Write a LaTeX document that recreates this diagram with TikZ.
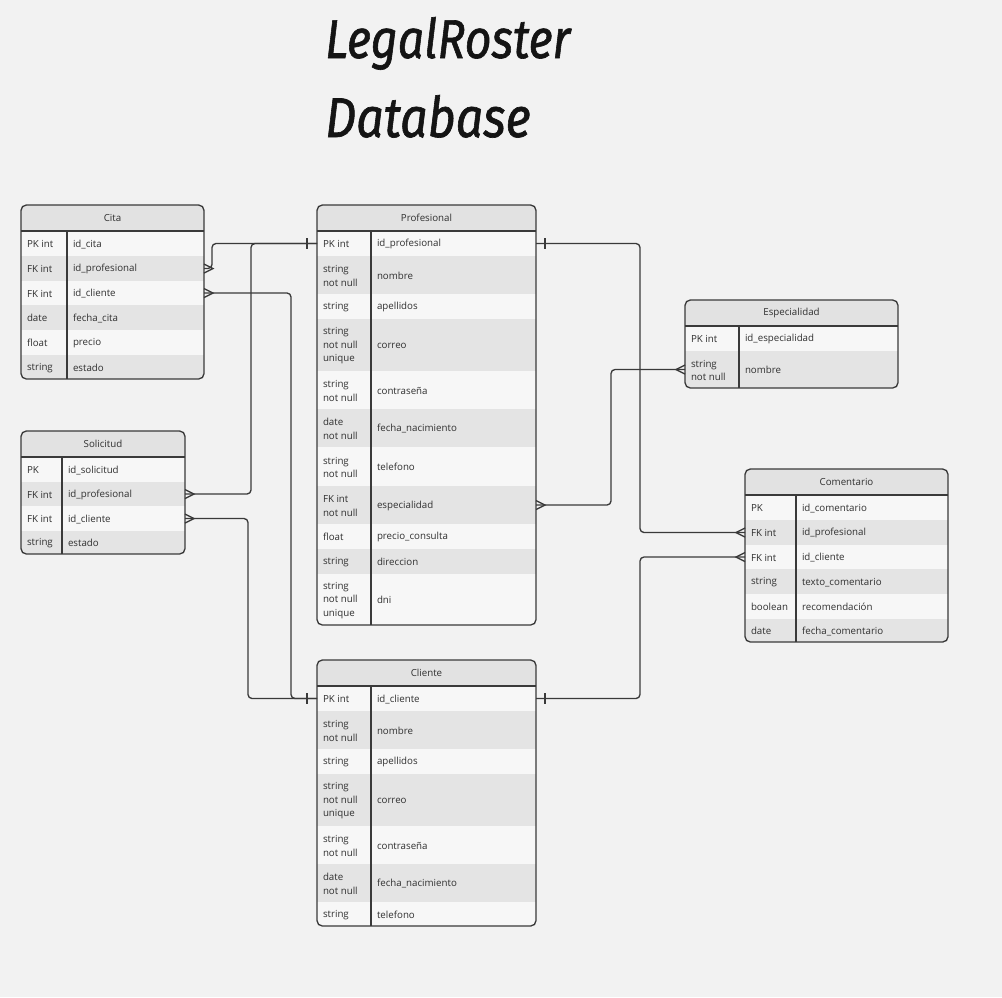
\documentclass[tikz,border=0pt]{standalone}
\usepackage{fontspec}
\setmainfont{Open Sans}
\newfontfamily\titlefont{Fira Sans}[ItalicFeatures={FakeBold=1.2}]
\usetikzlibrary{calc}
\definecolor{bg}{HTML}{F2F2F2}
\definecolor{rowW}{HTML}{F7F7F7}
\definecolor{rowG}{HTML}{E4E4E4}
\definecolor{hdr}{HTML}{E2E2E2}
\definecolor{ln}{HTML}{3A3A3A}
\definecolor{txt}{HTML}{303030}
\tikzset{
  cell/.style={font=\fontsize{7.3}{10}\selectfont, text=txt, inner sep=0pt, outer sep=0pt, align=left},
  conn/.style={draw=ln, line width=1pt, rounded corners=3pt},
  tick/.style={draw=ln, line width=1pt},
  frame/.style={draw=ln, line width=1pt, rounded corners=4pt},
  sep/.style={draw=ln, line width=1pt},
}
% name, x1, xd, x2, y1, y2, fill, left, right
\newcommand{\erow}[9]{%
  \node[fill=#7, inner sep=0pt, outer sep=0pt, minimum width={(#4-#2)*0.75pt}, minimum height={(#6-#5)*0.75pt}, anchor=north west] (#1) at (#2,#5) {};
  \node[cell, anchor=west] (#1-k) at ({#2+6},{(#5+#6)/2+0.8}) {#8};
  \node[cell, anchor=west] (#1-v) at ({#3+6},{(#5+#6)/2+0.8}) {#9};
}
% name, x1, x2, y1, yh, title
\newcommand{\ehead}[6]{%
  \node[cell, fill=hdr, minimum width={(#3-#2)*0.75pt}, minimum height={(#5-#4)*0.75pt}, anchor=north west, align=center] (#1) at (#2,#4) {#6};
}
% x1, xd, x2, y1, yh, y2
\newcommand{\eframe}[6]{%
  \draw[sep] (#1,#5) -- (#3,#5);
  \draw[sep] (#2,#5) -- (#2,#6);
  \draw[frame] (#1,#4) rectangle (#3,#6);
}
\newcommand{\crowR}[1]{\draw[tick] ($(#1)+(0,-4.5)$) -- ($(#1)+(9,0)$) -- ($(#1)+(0,4.5)$);}
\newcommand{\crowL}[1]{\draw[tick] ($(#1)+(0,-4.5)$) -- ($(#1)+(-9,0)$) -- ($(#1)+(0,4.5)$);}
\newcommand{\barR}[1]{\draw[tick] ($(#1)+(9,-5.5)$) -- ($(#1)+(9,5.5)$);}
\newcommand{\barL}[1]{\draw[tick] ($(#1)+(-10,-5.5)$) -- ($(#1)+(-10,5.5)$);}
\begin{document}
\begin{tikzpicture}[x=0.75pt, y=-0.75pt]
\useasboundingbox (0,0) rectangle (1002,997);
\fill[bg] (0,0) rectangle (1002,997);

% Title
\node[anchor=base west, inner sep=0pt, text=black!92] (title1) at (325,58) {\resizebox{183.75pt}{30.75pt}{\titlefont\itshape LegalRoster}};
\node[anchor=base west, inner sep=0pt, text=black!92] (title2) at (325,137) {\resizebox{154pt}{31.5pt}{\titlefont\itshape Database}};

% Cita
\begin{scope}
\clip[rounded corners=4pt] (21,205) rectangle (204,379);
\ehead{cita}{21}{204}{205}{231}{Cita}
\erow{cita-1}{21}{67}{204}{231}{256}{rowW}{PK int}{id\_cita}
\erow{cita-2}{21}{67}{204}{256}{281}{rowG}{FK int}{id\_profesional}
\erow{cita-3}{21}{67}{204}{281}{305}{rowW}{FK int}{id\_cliente}
\erow{cita-4}{21}{67}{204}{305}{330}{rowG}{date}{fecha\_cita}
\erow{cita-5}{21}{67}{204}{330}{355}{rowW}{float}{precio}
\erow{cita-6}{21}{67}{204}{355}{379}{rowG}{string}{estado}
\end{scope}
\eframe{21}{67}{204}{205}{231}{379}

% Profesional
\begin{scope}
\clip[rounded corners=4pt] (317,205) rectangle (536,625);
\ehead{prof}{317}{536}{205}{231}{Profesional}
\erow{prof-1}{317}{371}{536}{231}{256}{rowW}{PK int}{id\_profesional}
\erow{prof-2}{317}{371}{536}{256}{294}{rowG}{string\\not null}{nombre}
\erow{prof-3}{317}{371}{536}{294}{319}{rowW}{string}{apellidos}
\erow{prof-4}{317}{371}{536}{319}{371}{rowG}{string\\not null\\unique}{correo}
\erow{prof-5}{317}{371}{536}{371}{409}{rowW}{string\\not null}{contraseña}
\erow{prof-6}{317}{371}{536}{409}{447}{rowG}{date\\not null}{fecha\_nacimiento}
\erow{prof-7}{317}{371}{536}{447}{486}{rowW}{string\\not null}{telefono}
\erow{prof-8}{317}{371}{536}{486}{524}{rowG}{FK int\\not null}{especialidad}
\erow{prof-9}{317}{371}{536}{524}{549}{rowW}{float}{precio\_consulta}
\erow{prof-10}{317}{371}{536}{549}{574}{rowG}{string}{direccion}
\erow{prof-11}{317}{371}{536}{574}{625}{rowW}{string\\not null\\unique}{dni}
\end{scope}
\eframe{317}{371}{536}{205}{231}{625}

% Especialidad
\begin{scope}
\clip[rounded corners=4pt] (685,300) rectangle (898,388);
\ehead{espe}{685}{898}{300}{326}{Especialidad}
\erow{espe-1}{685}{739}{898}{326}{351}{rowW}{PK int}{id\_especialidad}
\erow{espe-2}{685}{739}{898}{351}{388}{rowG}{string\\not null}{nombre}
\end{scope}
\eframe{685}{739}{898}{300}{326}{388}

% Solicitud
\begin{scope}
\clip[rounded corners=4pt] (21,431) rectangle (185,554);
\ehead{soli}{21}{185}{431}{457}{Solicitud}
\erow{soli-1}{21}{62}{185}{457}{482}{rowW}{PK}{id\_solicitud}
\erow{soli-2}{21}{62}{185}{482}{506}{rowG}{FK int}{id\_profesional}
\erow{soli-3}{21}{62}{185}{506}{531}{rowW}{FK int}{id\_cliente}
\erow{soli-4}{21}{62}{185}{531}{554}{rowG}{string}{estado}
\end{scope}
\eframe{21}{62}{185}{431}{457}{554}

% Comentario
\begin{scope}
\clip[rounded corners=4pt] (745,469) rectangle (948,642);
\ehead{come}{745}{948}{469}{495}{Comentario}
\erow{come-1}{745}{796}{948}{495}{520}{rowW}{PK}{id\_comentario}
\erow{come-2}{745}{796}{948}{520}{545}{rowG}{FK int}{id\_profesional}
\erow{come-3}{745}{796}{948}{545}{569}{rowW}{FK int}{id\_cliente}
\erow{come-4}{745}{796}{948}{569}{594}{rowG}{string}{texto\_comentario}
\erow{come-5}{745}{796}{948}{594}{619}{rowW}{boolean}{recomendación}
\erow{come-6}{745}{796}{948}{619}{642}{rowG}{date}{fecha\_comentario}
\end{scope}
\eframe{745}{796}{948}{469}{495}{642}

% Cliente
\begin{scope}
\clip[rounded corners=4pt] (317,660) rectangle (536,926);
\ehead{clie}{317}{536}{660}{686}{Cliente}
\erow{clie-1}{317}{371}{536}{686}{711}{rowW}{PK int}{id\_cliente}
\erow{clie-2}{317}{371}{536}{711}{749}{rowG}{string\\not null}{nombre}
\erow{clie-3}{317}{371}{536}{749}{774}{rowW}{string}{apellidos}
\erow{clie-4}{317}{371}{536}{774}{826}{rowG}{string\\not null\\unique}{correo}
\erow{clie-5}{317}{371}{536}{826}{864}{rowW}{string\\not null}{contraseña}
\erow{clie-6}{317}{371}{536}{864}{902}{rowG}{date\\not null}{fecha\_nacimiento}
\erow{clie-7}{317}{371}{536}{902}{926}{rowW}{string}{telefono}
\end{scope}
\eframe{317}{371}{536}{660}{686}{926}

% Connectors
\draw[conn] (cita-2.east) -- ++(8,0) |- (prof-1.west);
\draw[conn] (cita-3.east) -| ($(clie-1.west)+(-26,0)$) -- (clie-1.west);
\draw[conn] (soli-2.east) -| ($(prof-1.west)+(-66,0)$) -- (prof-1.west);
\draw[conn] (soli-3.east) -| ($(clie-1.west)+(-69,0)$) -- (clie-1.west);
\draw[conn] (prof-1.east) -- ++(104,0) |- (come-2.west);
\draw[conn] (prof-8.east) -- ++(75,0) |- (espe-2.west);
\draw[conn] (clie-1.east) -- ++(104,0) |- (come-3.west);

% Ends
\crowR{cita-2.east}
\crowR{cita-3.east}
\crowR{soli-2.east}
\crowR{soli-3.east}
\crowR{prof-8.east}
\crowL{espe-2.west}
\crowL{come-2.west}
\crowL{come-3.west}
\barL{prof-1.west}
\barR{prof-1.east}
\barL{clie-1.west}
\barR{clie-1.east}
\end{tikzpicture}
\end{document}
